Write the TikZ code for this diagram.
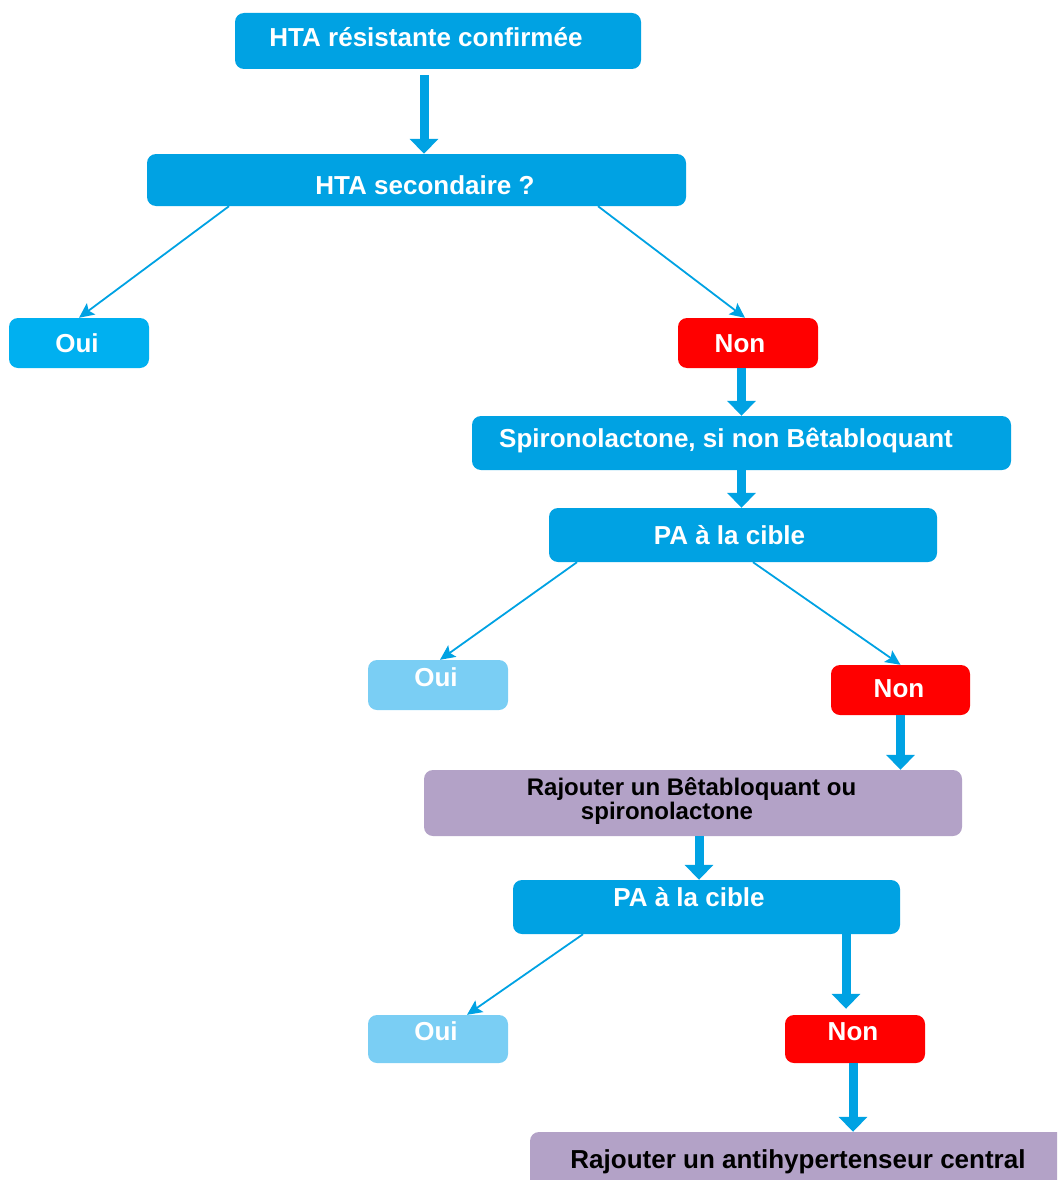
\documentclass[tikz,border=0pt]{standalone}
\usepackage{fontspec}
\setmainfont{Liberation Sans}
\usetikzlibrary{arrows.meta}
\definecolor{hblue}{RGB}{0,162,227}
\definecolor{oblue}{RGB}{0,176,240}
\definecolor{lblue}{RGB}{122,206,244}
\definecolor{nred}{RGB}{255,0,0}
\definecolor{lilac}{RGB}{179,162,199}
\begin{document}
\begin{tikzpicture}[x=1pt,y=-1pt,line cap=butt,
	box/.style={rounded corners=9pt,fill=hblue,inner sep=0pt},
	txt/.style={anchor=base,inner sep=0pt,text=white,font=\fontsize{26}{30}\selectfont\bfseries},
	dark/.style={text=black,font=\fontsize{24}{24}\selectfont\bfseries},
	smallarrow/.style={draw=hblue,line width=1.8pt,-{Stealth[length=15pt,width=14pt,inset=3pt]}},
	bigarrow/.style={draw=hblue,line width=9pt,-{Triangle[length=15pt,width=28pt]}}]
	\useasboundingbox (0,0) rectangle (1057,1180);
	\clip (0,0) rectangle (1057,1180);
	% boxes
	\node[box,minimum width=406pt,minimum height=56pt] (hta) at (438,41) {};
	\node[box,minimum width=539pt,minimum height=52pt] (hsec) at (416.5,180) {};
	\node[box,fill=oblue,minimum width=140pt,minimum height=50pt] (oui1) at (79,343) {};
	\node[box,fill=nred,minimum width=140pt,minimum height=50pt] (non1) at (748,343) {};
	\node[box,minimum width=539pt,minimum height=54pt] (spiro) at (741.5,443) {};
	\node[box,minimum width=388pt,minimum height=54pt] (pa1) at (743,535) {};
	\node[box,fill=lblue,minimum width=140pt,minimum height=50pt] (oui2) at (438,685) {};
	\node[box,fill=nred,minimum width=139pt,minimum height=50pt] (non2) at (900.5,690) {};
	\node[box,fill=lilac,minimum width=538pt,minimum height=66pt] (rbeta) at (693,803) {};
	\node[box,minimum width=387pt,minimum height=54pt] (pa2) at (706.5,907) {};
	\node[box,fill=lblue,minimum width=140pt,minimum height=48pt] (oui3) at (438,1039) {};
	\node[box,fill=nred,minimum width=140pt,minimum height=48pt] (non3) at (855,1039) {};
	\node[box,fill=lilac,minimum width=544pt,minimum height=68pt] (rcent) at (802,1166) {};
	% texts
	\node[txt] (hta-t) at (426,47) {HTA résistante confirmée};
	\node[txt] (hsec-t) at (425,194) {HTA secondaire ?};
	\node[txt] (oui1-t) at (77,352) {Oui};
	\node[txt] (non1-t) at (740,352) {Non};
	\node[txt] (spiro-t) at (726,447) {Spironolactone, si non Bêtabloquant};
	\node[txt] (pa1-t) at (729.5,544) {PA à la cible};
	\node[txt] (oui2-t) at (436,686) {Oui};
	\node[txt] (non2-t) at (899,697) {Non};
	\node[txt,dark] (rbeta-a) at (691.5,795) {Rajouter un Bêtabloquant ou};
	\node[txt,dark] (rbeta-b) at (667,819) {spironolactone};
	\node[txt] (pa2-t) at (689,906) {PA à la cible};
	\node[txt] (oui3-t) at (436,1040) {Oui};
	\node[txt] (non3-t) at (853,1040) {Non};
	\node[txt,text=black] (rcent-t) at (798,1168) {Rajouter un antihypertenseur central};
	% arrows
	\draw[bigarrow] ([xshift=-14pt,yshift=-6pt]hta.south) -- ([xshift=7.5pt]hsec.north);
	\draw[smallarrow] ([xshift=-187.5pt]hsec.south) -- (oui1.north);
	\draw[smallarrow] ([xshift=181.5pt]hsec.south) -- ([xshift=-3pt]non1.north);
	\draw[bigarrow] ([xshift=-6.5pt]non1.south) -- (spiro.north);
	\draw[bigarrow] (spiro.south) -- (spiro.south |- pa1.north);
	\draw[smallarrow] ([xshift=-166pt]pa1.south) -- ([xshift=2pt]oui2.north);
	\draw[smallarrow] ([xshift=10pt]pa1.south) -- (non2.north);
	\draw[bigarrow] (non2.south) -- (non2.south |- rbeta.north);
	\draw[bigarrow] ([xshift=6pt]rbeta.south) -- ([xshift=-7.5pt]pa2.north);
	\draw[smallarrow] ([xshift=-123.5pt]pa2.south) -- ([xshift=29pt]oui3.north);
	\draw[bigarrow] ([xshift=139.5pt]pa2.south) -- ([xshift=-9pt,yshift=6pt]non3.north);
	\draw[bigarrow] ([xshift=-2pt]non3.south) -- ([xshift=51pt]rcent.north);
\end{tikzpicture}
\end{document}
